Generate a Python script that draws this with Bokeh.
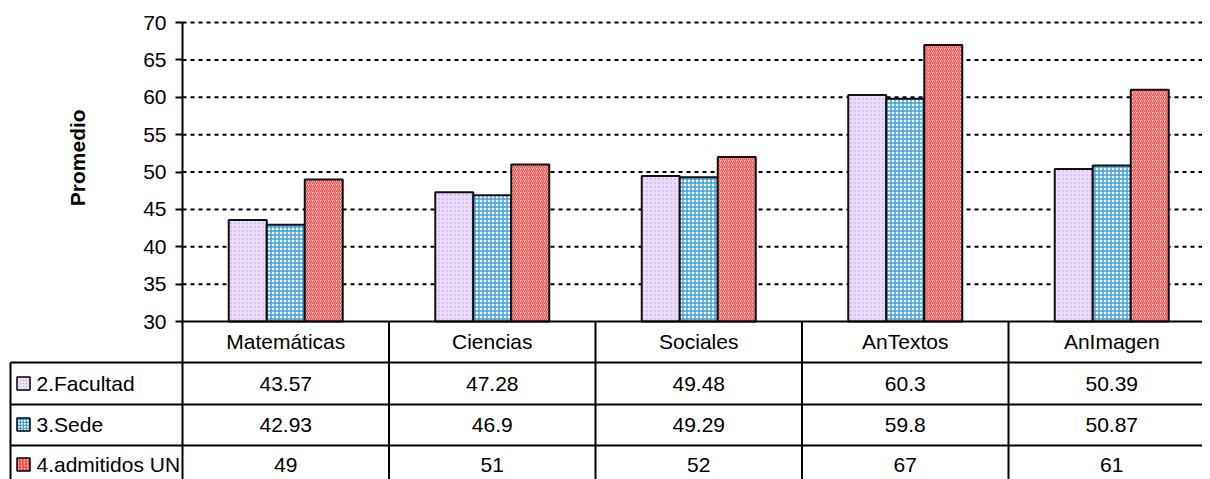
import math
from bokeh.plotting import figure
from bokeh.models import Range1d, LinearAxis, FixedTicker, ColumnDataSource
from bokeh.core.properties import value
from bokeh.embed import file_html
from bokeh.resources import INLINE

# ---------------- data ----------------
categories = ["Matemáticas", "Ciencias", "Sociales", "AnTextos", "AnImagen"]
series_names = ["2.Facultad", "3.Sede", "4.admitidos UN"]
facultad = [43.57, 47.28, 49.48, 60.3, 50.39]
sede = [42.93, 46.9, 49.29, 59.8, 50.87]
admitidos = [49, 51, 52, 67, 61]
y_ticks = [30, 35, 40, 45, 50, 55, 60, 65, 70]
y_label = "Promedio"

# ---------------- layout constants ----------------
FONT = "Liberation Sans"
FS = "21px"
W, H = 1202, 479
Y_MIN, Y_MAX = 30, 70
ppu = 299 / (Y_MAX - Y_MIN)          # pixels per y unit
TOP_PX = 22                           # pixels from figure top to the 70 line
y_end = Y_MAX + TOP_PX / ppu
y_start = y_end - H / ppu
cat_px = 206.5                        # pixels per category
left_px = 182                         # value axis position
x_start = -left_px / cat_px
x_end = x_start + W / cat_px


def ydown(px):
    """y value located px pixels below the baseline (30)."""
    return Y_MIN - px / ppu


def xpx(px):
    """x value located px pixels right of the value axis."""
    return px / cat_px


p = figure(width=W, height=H, output_backend="svg", toolbar_location=None,
           x_range=Range1d(x_start, x_end), y_range=Range1d(y_start, y_end),
           x_axis_location=None, y_axis_location=None,
           min_border_left=0, min_border_right=0, min_border_top=0,
           min_border_bottom=0)
p.outline_line_color = None
p.grid.visible = False
p.background_fill_color = "white"
p.border_fill_color = "white"

# ---------------- grid lines ----------------
gt = y_ticks[1:]
p.segment(x0=[0] * len(gt), y0=gt, x1=[x_end] * len(gt), y1=gt,
          line_color="black", line_width=2, line_dash="4 4")

# ---------------- bars ----------------
bw = 38 / cat_px
styles = [
    dict(fill_color="#EADCFA", hatch_pattern="right_diagonal_dash",
         hatch_color="#C7A3F0", hatch_scale=4, hatch_weight=1),
    dict(fill_color="#FFFFFF", hatch_pattern="cross",
         hatch_color="#3F9FDA", hatch_scale=4, hatch_weight=1.5),
    dict(fill_color="#FFD0D0", hatch_pattern="right_diagonal_line",
         hatch_color="#EE4444", hatch_scale=4, hatch_weight=1.2),
]
series = [facultad, sede, admitidos]
offsets = [-bw, 0, bw]
for vals, off, st in zip(series, offsets, styles):
    src = ColumnDataSource(dict(x=[i + 0.5 + off for i in range(len(categories))],
                                top=vals))
    p.vbar(x="x", top="top", bottom=Y_MIN, width=bw, source=src,
           line_color="#111111", line_width=2, **st)

# ---------------- table ----------------
row_edges = [0, 41, 83, 124, 170]
leg_left = xpx(-172)
p.segment(x0=[0], y0=[Y_MIN], x1=[x_end], y1=[Y_MIN], line_color="black", line_width=2)
for e in row_edges[1:]:
    p.segment(x0=[leg_left], y0=[ydown(e)], x1=[x_end], y1=[ydown(e)],
              line_color="black", line_width=2)
n = len(categories)
p.segment(x0=list(range(1, n + 1)), y0=[Y_MIN] * n, x1=list(range(1, n + 1)),
          y1=[ydown(200)] * n, line_color="black", line_width=2)
p.segment(x0=[leg_left], y0=[ydown(row_edges[1])], x1=[leg_left], y1=[ydown(200)],
          line_color="black", line_width=2)

centers = [i + 0.5 for i in range(n)]
p.text(x=centers, y=[ydown(20)] * n, text=categories, text_align="center",
       text_baseline="middle", text_font=value(FONT), text_font_size=FS,
       text_color="black")
row_centers = [62, 103, 143]

for r, vals in enumerate(series):
    p.text(x=centers, y=[ydown(row_centers[r])] * n, text=[str(v) for v in vals],
           text_align="center", text_baseline="middle", text_font=value(FONT),
           text_font_size=FS, text_color="black")
    p.rect(x=[xpx(-159)], y=[ydown(row_centers[r])], width=13, height=13,
           width_units="screen", height_units="screen", line_color="black",
           line_width=1.5, **{**styles[r], "hatch_scale": 3})
    p.text(x=[xpx(-146)], y=[ydown(row_centers[r])], text=[series_names[r]],
           text_align="left", text_baseline="middle", text_font=value(FONT),
           text_font_size=FS, text_color="black")

# ---------------- value axis ----------------
yaxis = LinearAxis(fixed_location=0, ticker=FixedTicker(ticks=y_ticks),
                   bounds=(y_start, Y_MAX),
                   axis_line_color="black", axis_line_width=2,
                   major_tick_out=7, major_tick_in=0, major_tick_line_width=2,
                   minor_tick_out=0, minor_tick_in=0,
                   major_label_standoff=9,
                   major_label_text_font=FONT, major_label_text_font_size=FS,
                   major_label_text_color="black")
p.add_layout(yaxis, "left")

p.text(x=[xpx(-105)], y=[51.9], text=[y_label], angle=math.pi / 2,
       text_align="center", text_baseline="middle", text_font=value(FONT),
       text_font_size=FS, text_font_style="bold", text_color="black")

open("out.html", "w").write(file_html(p, INLINE))
